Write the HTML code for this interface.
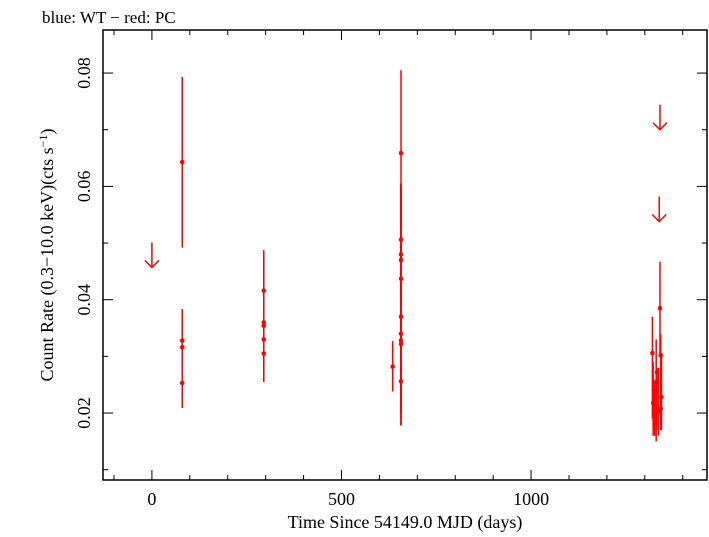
<!DOCTYPE html>
<html><head><meta charset="utf-8"><style>
body{margin:0;background:#fff;}
svg text{font-family:"Liberation Serif",serif;fill:#000;}
</style></head><body>
<svg width="709" height="532" viewBox="0 0 709 532">
<text x="42" y="23" font-size="17">blue: WT − red: PC</text>
<g id="axes"></g>
<g id="marks"></g>
<text x="405" y="528" font-size="18" text-anchor="middle">Time Since 54149.0 MJD (days)</text>
<text transform="translate(53,255) rotate(-90)" font-size="18" text-anchor="middle">Count Rate (0.3−10.0 keV)(cts s<tspan dy="-6" font-size="12">−1</tspan><tspan dy="6">)</tspan></text>
</svg>
<script>
const xTicks=[0,500,1000];
const yTicks=[0.02,0.04,0.06,0.08];
const times=[80,80,80,80,295,295,295,295,295,635,657,657,657,657,657,657,657,657,657,657,1320,1322,1324,1326,1330,1332,1340,1342,1344,1342,1336];
const rates=[0.0643,0.0328,0.0316,0.0253,0.0416,0.0360,0.0354,0.0330,0.0305,0.0282,0.0659,0.0506,0.0480,0.0470,0.0437,0.0370,0.0340,0.0328,0.0322,0.0256,0.0306,0.0218,0.0200,0.0182,0.0254,0.0272,0.0385,0.0302,0.0228,0.0208,0.0203];
const errLo=[0.0492,0.0209,0.0209,0.0209,0.0255,0.0255,0.0255,0.0255,0.0255,0.0238,0.0510,0.0178,0.0178,0.0200,0.0200,0.0200,0.0200,0.0200,0.0200,0.0178,0.0190,0.0160,0.0170,0.0160,0.0150,0.0170,0.0300,0.0180,0.0170,0.0170,0.0160];
const errHi=[0.0793,0.0383,0.0383,0.0383,0.0487,0.0487,0.0487,0.0487,0.0487,0.0327,0.0805,0.0605,0.0605,0.0600,0.0600,0.0600,0.0600,0.0400,0.0400,0.0605,0.0370,0.0290,0.0260,0.0250,0.0330,0.0280,0.0467,0.0340,0.0300,0.0270,0.0280];
const ulTimes=[0,1340,1338];
const ulRates=[0.0457,0.0700,0.0538];
const L=103,R=707,T=30,B=480,xmin=-129,xmax=1464,ymin=0.00818,ymax=0.0876;
const X=v=>L+(v-xmin)/(xmax-xmin)*(R-L);
const Y=v=>B-(v-ymin)/(ymax-ymin)*(B-T);
const NS="http://www.w3.org/2000/svg";
function mk(tag,attrs,parent){const e=document.createElementNS(NS,tag);for(const k in attrs)e.setAttribute(k,attrs[k]);parent.appendChild(e);return e;}
const ax=document.getElementById('axes'),mg=document.getElementById('marks');
const frame=mk('rect',{x:L,y:T,width:R-L,height:B-T,fill:'none',stroke:'#000','stroke-width':1.5},ax);


for(let v=-100;v<=1400;v+=100){const major=v%500===0;const len=major?10:5;
 const t1=mk('line',{x1:X(v),x2:X(v),y1:B,y2:B-len,stroke:'#000'},ax);
 
 const t2=mk('line',{x1:X(v),x2:X(v),y1:T,y2:T+len,stroke:'#000'},ax);
 }
xTicks.forEach(v=>{const t=mk('text',{x:X(v),y:505,'font-size':18,'text-anchor':'middle'},ax);t.textContent=v;
 });
for(let i=1;i<=8;i++){const v=i*0.01;const major=i%2===0;const len=major?10:5;
 const t1=mk('line',{x1:L,x2:L+len,y1:Y(v),y2:Y(v),stroke:'#000'},ax);
 
 const t2=mk('line',{x1:R,x2:R-len,y1:Y(v),y2:Y(v),stroke:'#000'},ax);
 }
yTicks.forEach(v=>{const t=mk('text',{transform:`translate(90,${Y(v)}) rotate(-90)`,'font-size':18,'text-anchor':'middle'},ax);t.textContent=v.toFixed(2);
 });
times.forEach((t,i)=>{const g=mk('g',{},mg);
 
 mk('line',{x1:X(t),x2:X(t),y1:Y(errLo[i]),y2:Y(errHi[i]),stroke:'#f00','stroke-width':1.5},g);
 mk('circle',{cx:X(t),cy:Y(rates[i]),r:2.3,fill:'#f00'},g);});
ulTimes.forEach((t,i)=>{const x=X(t),y=Y(ulRates[i]);const g=mk('g',{stroke:'#f00','stroke-width':1.5,fill:'none'},mg);
 
 mk('line',{x1:x,x2:x,y1:y-25,y2:y},g);
 mk('polyline',{points:`${x-7},${y-7} ${x},${y} ${x+7},${y-7}`},g);});
</script>
</body></html>
